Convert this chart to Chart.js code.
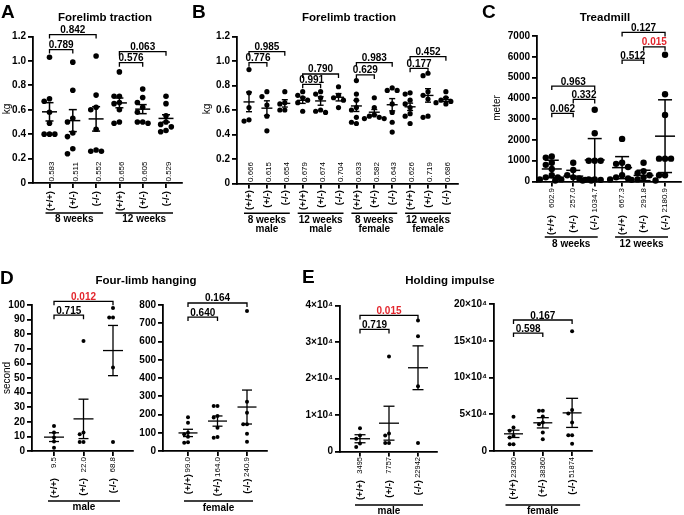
<!DOCTYPE html>
<html>
<head>
<meta charset="utf-8">
<title>Motor tests</title>
<script src="https://cdn.jsdelivr.net/npm/chart.js@4.4.1/dist/chart.umd.min.js"></script>
<style>
    body { margin: 0; background: #fff; width: 684px; height: 515px; overflow: hidden; position: relative; }
    canvas { position: absolute; left: 0; top: 0; }
</style>
</head>
<body>
<canvas id="chartA" width="684" height="515"></canvas>
<canvas id="chartB" width="684" height="515"></canvas>
<canvas id="chartC" width="684" height="515"></canvas>
<canvas id="chartDL" width="684" height="515"></canvas>
<canvas id="chartDR" width="684" height="515"></canvas>
<canvas id="chartEL" width="684" height="515"></canvas>
<canvas id="chartER" width="684" height="515"></canvas>
<script>
// ---- data ----
const genotypes = ['(+/+)', '(+/-)', '(-/-)'];

// A - forelimb traction (kg)
const aGroups = ['8 weeks', '12 weeks'];
const aValues = [
    [1.03, 0.69, 0.67, 0.58, 0.49, 0.40, 0.40, 0.40],
    [0.99, 0.76, 0.53, 0.50, 0.41, 0.38, 0.28, 0.24],
    [1.04, 0.72, 0.62, 0.60, 0.44, 0.27, 0.26, 0.26],
    [0.91, 0.71, 0.71, 0.66, 0.65, 0.60, 0.50, 0.49],
    [0.77, 0.70, 0.66, 0.62, 0.58, 0.50, 0.50, 0.49],
    [0.71, 0.65, 0.55, 0.50, 0.48, 0.46, 0.43, 0.42]
];
const aMeans = [0.583, 0.511, 0.525, 0.656, 0.605, 0.529];
const aErrors = [0.075, 0.09, 0.10, 0.04, 0.037, 0.03];
const aMeanLabels = ['0.583', '0.511', '0.552', '0.656', '0.605', '0.529'];
const aPairs = [[0, 2], [0, 1], [3, 5], [3, 4]];
const aPValues = ['0.842', '0.789', '0.063', '0.576'];
const aTicks = [0, 0.2, 0.4, 0.6, 0.8, 1.0, 1.2];
const aTickLabels = ['0', '0.2', '0.4', '0.6', '0.8', '1.0', '1.2'];

// B - forelimb traction by sex (kg)
const bGroups = ['8 weeks\nmale', '12 weeks\nmale', '8 weeks\nfemale', '12 weeks\nfemale'];
const bValues = [
    [0.93, 0.74, 0.62, 0.52, 0.51],
    [0.75, 0.71, 0.64, 0.55, 0.43],
    [0.75, 0.66, 0.65, 0.60, 0.60],
    [0.75, 0.72, 0.70, 0.68, 0.66, 0.59],
    [0.75, 0.73, 0.70, 0.60, 0.59, 0.58],
    [0.79, 0.72, 0.70, 0.68, 0.62],
    [0.84, 0.73, 0.68, 0.62, 0.60, 0.54, 0.50, 0.49],
    [0.70, 0.62, 0.56, 0.55, 0.54, 0.53, 0.53],
    [0.78, 0.76, 0.76, 0.65, 0.58, 0.50, 0.42],
    [0.74, 0.73, 0.68, 0.65, 0.62, 0.57, 0.55, 0.49],
    [0.90, 0.88, 0.75, 0.72, 0.69, 0.55, 0.54],
    [0.75, 0.70, 0.68, 0.67, 0.66, 0.65]
];
const bMeans = [0.666, 0.615, 0.654, 0.679, 0.674, 0.704, 0.633, 0.582, 0.643, 0.626, 0.719, 0.686];
const bErrors = [0.08, 0.06, 0.03, 0.025, 0.035, 0.03, 0.045, 0.022, 0.05, 0.03, 0.055, 0.016];
const bMeanLabels = ['0.666', '0.615', '0.654', '0.679', '0.674', '0.704', '0.633', '0.582', '0.643', '0.626', '0.719', '0.686'];
const bPairs = [[0, 2], [0, 1], [3, 5], [3, 4], [6, 8], [6, 7], [9, 11], [9, 10]];
const bPValues = ['0.985', '0.776', '0.790', '0.991', '0.983', '0.629', '0.452', '0.177'];

// C - treadmill (meter)
const cGroups = ['8 weeks', '12 weeks'];
const cValues = [
    [1200, 1150, 900, 800, 600, 300, 200, 200, 100],
    [900, 550, 300, 200, 150, 100, 80, 50, 50],
    [3450, 2320, 1000, 1000, 1000, 100, 100, 80, 50],
    [2050, 900, 850, 700, 300, 200, 150, 100],
    [900, 500, 400, 300, 200, 100, 80, 50],
    [6100, 4200, 3200, 1100, 1100, 1100, 300, 300]
];
const cMeans = [603, 257, 1035, 667, 292, 2181];
const cErrors = [420, 280, 1030, 530, 250, 1750];
const cMeanLabels = ['602.9', '257.0', '1034.7', '667.3', '291.8', '2180.9'];
const cPairs = [[0, 2], [0, 1], [1, 2], [3, 5], [3, 4], [4, 5]];
const cPValues = ['0.963', '0.062', '0.332', '0.127', '0.512', '0.015'];
const cTicks = [0, 1000, 2000, 3000, 4000, 5000, 6000, 7000];
const cTickLabels = ['0', '1000', '2000', '3000', '4000', '5000', '6000', '7000'];

// D - four-limb hanging (second)
const dMaleValues = [
    [17.2, 12.6, 9.2, 6.5, 2.3],
    [75.3, 12.6, 11.4, 6.2, 6.2],
    [98, 91.5, 91.5, 57.2, 6.2]
];
const dMaleMeans = [9.5, 22.0, 68.8];
const dMaleErrors = [3.0, 13.5, 17.2];
const dMaleLabels = ['9.5', '22.0', '68.8'];
const dMalePValues = ['0.012', '0.715'];
const dMaleTicks = [0, 10, 20, 30, 40, 50, 60, 70, 80, 90, 100];
const dMaleTickLabels = ['0', '10', '20', '30', '40', '50', '60', '70', '80', '90', '100'];

const dFemaleValues = [
    [185, 155, 100, 92, 78, 48, 45],
    [247, 247, 192, 183, 128, 77, 73],
    [767, 270, 210, 146, 146, 95, 51]
];
const dFemaleMeans = [99.0, 164.0, 240.9];
const dFemaleErrors = [20, 28, 93];
const dFemaleLabels = ['99.0', '164.0', '240.9'];
const dFemalePValues = ['0.164', '0.640'];
const dFemaleTicks = [0, 100, 200, 300, 400, 500, 600, 700, 800];
const dFemaleTickLabels = ['0', '100', '200', '300', '400', '500', '600', '700', '800'];

// E - holding impulse
const eMaleValues = [
    [6400, 4400, 3500, 2200, 1200],
    [26000, 4900, 4400, 2300, 2300],
    [35900, 31600, 17900, 2300]
];
const eMaleMeans = [3495, 7757, 22942];
const eMaleErrors = [1100, 4650, 6000];
const eMaleLabels = ['3495', '7757', '22942'];
const eMalePValues = ['0.015', '0.719'];
const eMaleTicks = [0, 10000, 20000, 30000, 40000];
const eMaleTickLabels = ['0', '1×10⁴', '2×10⁴', '3×10⁴', '4×10⁴'];

const eFemaleValues = [
    [46600, 32000, 27400, 20500, 18300, 9100, 9100],
    [54800, 54800, 47000, 38800, 36500, 25100, 16000],
    [163000, 55700, 51100, 38800, 21500, 21500, 10000]
];
const eFemaleMeans = [23360, 38360, 51874];
const eFemaleErrors = [5000, 7000, 19800];
const eFemaleLabels = ['23360', '38360', '51874'];
const eFemalePValues = ['0.167', '0.598'];
const eFemaleTicks = [0, 50000, 100000, 150000, 200000];
const eFemaleTickLabels = ['0', '5×10⁴', '10×10⁴', '15×10⁴', '20×10⁴'];

const threePairs = [[0, 2], [0, 1]];

// ---- look ----
const FONT = '"Liberation Sans", Arial, Helvetica, sans-serif';
const RED = '#e3262d';
Chart.defaults.font.family = FONT;
Chart.defaults.color = '#000';

// pixel layout of each panel (page coordinates)
const layoutA = {
    left: 33, right: 182, top: 36.5, bottom: 183, yMin: 0, yMax: 1.2,
    x0: 49.5, dx: 23.3, gap: 0, r: 2.8, meanW: 15, capW: 8, barLw: 1.5,
    labelStyle: 'above', valDx: 2.5, valFont: 8, catTop: 191,
    groupLineY: 213, groupBase: [222], grpPad: [4, 7],
    letter: [1, 18], title: [105, 20.5], yLabelPos: [7, 109],
    bracketY: [1.216, 1.093, 1.076, 0.986]
};
const layoutB = {
    left: 237, right: 458, top: 36.5, bottom: 183.5, yMin: 0, yMax: 1.2,
    x0: 249, dx: 17.9, gap: 0, r: 2.6, meanW: 11, capW: 6, barLw: 1.4,
    labelStyle: 'above', valDx: 2, valFont: 8, catTop: 190,
    groupLineY: 213.3, groupBase: [223, 231.5], grpPad: [5, 5],
    letter: [192, 18], title: [349, 20.5], yLabelPos: [207, 109],
    bracketY: [1.076, 0.986, 0.894, 0.81, 0.986, 0.886, 1.035, 0.94]
};
const layoutC = {
    left: 537, right: 683, top: 36, bottom: 181.5, yMin: 0, yMax: 7000,
    x0: 552, dx: 21.8, gap: 6, r: 3.2, meanW: 20, capW: 14, barLw: 1.5,
    labelStyle: 'below', valFont: 8, valTop: 188, catTop: 215,
    groupLineY: 237, groupBase: [247], grpPad: [7, 3], dashAxis: true,
    letter: [482, 18], title: [605, 20.5], yLabelPos: [497, 108],
    bracketY: [4590, 3280, 3950, 7170, 5840, 6480]
};
const layoutDL = {
    left: 32, right: 133, top: 305, bottom: 451, yMin: 0, yMax: 100,
    x0: 54, dx: 29.5, gap: 0, r: 2, meanW: 20, capW: 10, barLw: 1.3,
    labelStyle: 'below', valFont: 8, valTop: 457, catTop: 478,
    groupLineY: 501, groupBase: [510], grpPad: [6, 7],
    letter: [0, 284], title: [146, 283.5], yLabelPos: [7, 378],
    bracketY: [102.5, 93]
};
const layoutDR = {
    left: 163, right: 267, top: 305, bottom: 451, yMin: 0, yMax: 800,
    x0: 188, dx: 29.5, gap: 0, r: 2, meanW: 19, capW: 10, barLw: 1.3,
    labelStyle: 'combined', valFont: 8, valTop: 457,
    groupLineY: 501, groupBase: [510.5], grpPad: [4, 6],
    bracketY: [811, 734]
};
const layoutEL = {
    left: 340, right: 437, top: 305.5, bottom: 451.5, yMin: 0, yMax: 40000,
    x0: 360, dx: 29, gap: 0, r: 2, meanW: 20, capW: 11, barLw: 1.3,
    labelStyle: 'below', valFont: 7.5, valTop: 457, catTop: 480,
    groupLineY: 505, groupBase: [514], grpPad: [5, 5],
    letter: [302, 283], title: [450, 283.5],
    bracketY: [37270, 33450]
};
const layoutER = {
    left: 494, right: 592, top: 304, bottom: 451, yMin: 0, yMax: 200000,
    x0: 513.5, dx: 29.3, gap: 0, r: 2, meanW: 19, capW: 12, barLw: 1.3,
    labelStyle: 'combined', valFont: 7.5, valTop: 457,
    groupLineY: 505, groupBase: [514], grpPad: [8, 8],
    bracketY: [178200, 160500]
};

const panels = [
    { id: 'chartA', letter: 'A', title: 'Forelimb traction', yLabel: 'kg', groups: aGroups,
      values: aValues, means: aMeans, errors: aErrors, meanLabels: aMeanLabels,
      pairs: aPairs, pValues: aPValues, ticks: aTicks, tickLabels: aTickLabels, layout: layoutA },
    { id: 'chartB', letter: 'B', title: 'Forelimb traction', yLabel: 'kg', groups: bGroups,
      values: bValues, means: bMeans, errors: bErrors, meanLabels: bMeanLabels,
      pairs: bPairs, pValues: bPValues, ticks: aTicks, tickLabels: aTickLabels, layout: layoutB },
    { id: 'chartC', letter: 'C', title: 'Treadmill', yLabel: 'meter', groups: cGroups,
      values: cValues, means: cMeans, errors: cErrors, meanLabels: cMeanLabels,
      pairs: cPairs, pValues: cPValues, ticks: cTicks, tickLabels: cTickLabels, layout: layoutC },
    { id: 'chartDL', letter: 'D', title: 'Four-limb hanging', yLabel: 'second', groups: ['male'],
      values: dMaleValues, means: dMaleMeans, errors: dMaleErrors, meanLabels: dMaleLabels,
      pairs: threePairs, pValues: dMalePValues, ticks: dMaleTicks, tickLabels: dMaleTickLabels, layout: layoutDL },
    { id: 'chartDR', groups: ['female'],
      values: dFemaleValues, means: dFemaleMeans, errors: dFemaleErrors, meanLabels: dFemaleLabels,
      pairs: threePairs, pValues: dFemalePValues, ticks: dFemaleTicks, tickLabels: dFemaleTickLabels, layout: layoutDR },
    { id: 'chartEL', letter: 'E', title: 'Holding impulse', groups: ['male'],
      values: eMaleValues, means: eMaleMeans, errors: eMaleErrors, meanLabels: eMaleLabels,
      pairs: threePairs, pValues: eMalePValues, ticks: eMaleTicks, tickLabels: eMaleTickLabels, layout: layoutEL },
    { id: 'chartER', groups: ['female'],
      values: eFemaleValues, means: eFemaleMeans, errors: eFemaleErrors, meanLabels: eFemaleLabels,
      pairs: threePairs, pValues: eFemalePValues, ticks: eFemaleTicks, tickLabels: eFemaleTickLabels, layout: layoutER }
];

// x value of category i (groups of three, optional extra gap between groups)
function catX(L, i) {
    return i + Math.floor(i / 3) * L.gap / L.dx;
}

// simple beeswarm: push dots sideways when they would overlap
function spread(values, L) {
    const pxPerY = (L.bottom - L.top) / (L.yMax - L.yMin);
    const step = L.r * 1.9;
    const placed = [];
    values.slice().sort((a, b) => b - a).forEach(v => {
        const py = v * pxPerY;
        for (let k = 0; k < 40; k++) {
            const off = (k % 2 ? -1 : 1) * Math.ceil(k / 2) * step;
            if (placed.every(q => (q.off - off) ** 2 + (q.py - py) ** 2 >= step * step)) {
                placed.push({ v: v, py: py, off: off });
                break;
            }
        }
    });
    return placed;
}

// rotated text, reading bottom to top
function vText(ctx, text, x, y, align) {
    ctx.save();
    ctx.translate(x, y);
    ctx.rotate(-Math.PI / 2);
    ctx.textAlign = align;
    ctx.textBaseline = 'middle';
    ctx.fillText(text, 0, 0);
    ctx.restore();
}

function drawExtras(chart, p) {
    const ctx = chart.ctx;
    const xs = chart.scales.x;
    const ys = chart.scales.y;
    const L = p.layout;
    const px = i => xs.getPixelForValue(catX(L, i));
    const seg = (x1, y1, x2, y2) => {
        ctx.beginPath(); ctx.moveTo(x1, y1); ctx.lineTo(x2, y2); ctx.stroke();
    };

    ctx.save();
    ctx.strokeStyle = '#000';
    ctx.fillStyle = '#000';

    // mean with error bars
    ctx.lineWidth = L.barLw;
    p.means.forEach((m, i) => {
        const x = px(i);
        const e = p.errors[i];
        const yTop = ys.getPixelForValue(m + e);
        const yBot = ys.getPixelForValue(Math.max(m - e, 0));
        const yM = ys.getPixelForValue(m);
        seg(x, yTop, x, yBot);
        seg(x - L.capW / 2, yTop, x + L.capW / 2, yTop);
        if (m - e > 0) seg(x - L.capW / 2, yBot, x + L.capW / 2, yBot);
        seg(x - L.meanW / 2, yM, x + L.meanW / 2, yM);
    });

    // significance brackets
    ctx.lineWidth = 1.3;
    ctx.font = 'bold 10px ' + FONT;
    ctx.textAlign = 'center';
    ctx.textBaseline = 'alphabetic';
    p.pairs.forEach((pair, k) => {
        const x1 = px(pair[0]);
        const x2 = px(pair[1]);
        const y = ys.getPixelForValue(L.bracketY[k]);
        ctx.beginPath();
        ctx.moveTo(x1, y + 4); ctx.lineTo(x1, y); ctx.lineTo(x2, y); ctx.lineTo(x2, y + 4);
        ctx.stroke();
        ctx.fillStyle = parseFloat(p.pValues[k]) < 0.05 ? RED : '#000';
        ctx.fillText(p.pValues[k], (x1 + x2) / 2, y - 1.5);
    });
    ctx.fillStyle = '#000';

    // mean values and genotype labels
    const axisY = ys.getPixelForValue(0);
    const valFont = L.valFont + 'px ' + FONT;
    const catFont = 'bold 9.5px ' + FONT;
    p.means.forEach((m, i) => {
        const x = px(i);
        const cat = genotypes[i % 3];
        if (L.labelStyle === 'above') {
            ctx.font = valFont;
            vText(ctx, p.meanLabels[i], x + L.valDx, axisY - 1.5, 'left');
            ctx.font = catFont;
            vText(ctx, cat, x + 0.5, L.catTop, 'right');
        } else if (L.labelStyle === 'below') {
            ctx.font = valFont;
            vText(ctx, p.meanLabels[i], x, L.valTop, 'right');
            ctx.font = catFont;
            vText(ctx, cat, x, L.catTop, 'right');
        } else {
            ctx.font = valFont;
            const w = ctx.measureText(p.meanLabels[i]).width;
            vText(ctx, p.meanLabels[i], x, L.valTop, 'right');
            ctx.font = catFont;
            vText(ctx, cat, x, L.valTop + w + 1.5, 'right');
        }
    });

    // group underlines
    ctx.lineWidth = 1.6;
    ctx.font = 'bold 10px ' + FONT;
    ctx.textAlign = 'center';
    p.groups.forEach((g, gi) => {
        const x1 = px(gi * 3) - L.grpPad[0];
        const x2 = px(gi * 3 + 2) + L.grpPad[1];
        seg(x1, L.groupLineY, x2, L.groupLineY);
        g.split('\n').forEach((line, li) => ctx.fillText(line, (x1 + x2) / 2, L.groupBase[li]));
    });

    // panel letter, title, axis title
    if (p.letter) {
        ctx.font = 'bold 19px ' + FONT;
        ctx.textAlign = 'left';
        ctx.fillText(p.letter, L.letter[0], L.letter[1]);
    }
    if (p.title) {
        ctx.font = 'bold 11.5px ' + FONT;
        ctx.textAlign = 'center';
        ctx.fillText(p.title, L.title[0], L.title[1]);
    }
    if (p.yLabel) {
        ctx.font = '10px ' + FONT;
        vText(ctx, p.yLabel, L.yLabelPos[0], L.yLabelPos[1], 'center');
    }
    ctx.restore();
}

function makePanel(p) {
    const L = p.layout;
    // y-axis box wide enough for its tick labels (they get clipped to it)
    const yW = Math.min(L.left - 1, 50);
    const points = [];
    p.values.forEach((vals, i) => {
        spread(vals, L).forEach(q => points.push({ x: catX(L, i) + q.off / L.dx, y: q.v }));
    });
    const axisGrid = { drawOnChartArea: false, drawTicks: true, tickLength: 5, color: '#000', lineWidth: 1.8 };

    new Chart(document.getElementById(p.id), {
        type: 'scatter',
        data: {
            datasets: [{
                data: points,
                backgroundColor: '#000',
                borderWidth: 0,
                pointRadius: L.r,
                pointHoverRadius: L.r,
                clip: false
            }]
        },
        options: {
            responsive: false,
            animation: false,
            events: [],
            layout: {
                padding: { left: L.left - yW, right: 684 - L.right, top: L.top, bottom: 515 - L.bottom - 5 }
            },
            plugins: { legend: { display: false }, tooltip: { enabled: false } },
            scales: {
                x: {
                    type: 'linear',
                    min: (L.left - L.x0) / L.dx,
                    max: (L.right - L.x0) / L.dx,
                    afterBuildTicks: s => { s.ticks = p.means.map((_, i) => ({ value: catX(L, i) })); },
                    afterFit: s => { s.height = 5; },
                    ticks: { autoSkip: false, callback: () => '' },
                    grid: axisGrid,
                    border: { color: '#000', width: 1.8, dash: L.dashAxis ? [2, 2] : [] }
                },
                y: {
                    min: L.yMin,
                    max: L.yMax,
                    afterBuildTicks: s => { s.ticks = p.ticks.map(v => ({ value: v })); },
                    afterFit: s => { s.width = yW; },
                    ticks: {
                        autoSkip: false,
                        padding: 2,
                        color: '#000',
                        font: { size: 10, weight: 'bold' },
                        callback: (v, i) => p.tickLabels[i]
                    },
                    grid: axisGrid,
                    border: { color: '#000', width: 1.8 }
                }
            }
        },
        plugins: [{ id: 'extras', afterDatasetsDraw: chart => drawExtras(chart, p) }]
    });
}

panels.forEach(makePanel);
</script>
</body>
</html>
